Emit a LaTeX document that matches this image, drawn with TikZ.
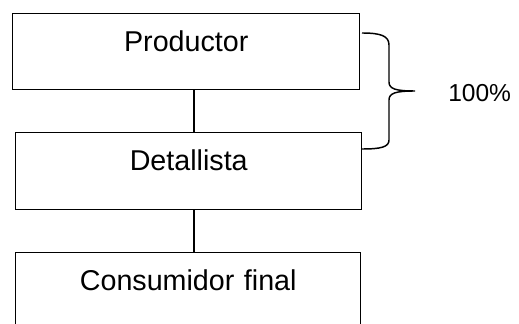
\documentclass[tikz,border=0pt]{standalone}
\usepackage{fontspec}
\setmainfont{Liberation Sans}
\begin{document}
\begin{tikzpicture}[x=0.75pt,y=-0.75pt,
  box/.style={draw,line width=1.1pt,inner sep=0pt,anchor=north west,align=center,
    text width=#1,text height=28.5pt,text depth=28.5pt,font=\fontsize{21.5}{24}\selectfont},
  link/.style={line width=1.1pt}]
\useasboundingbox (0,0) rectangle (519,324);
\node[box=260.25pt] (prod) at (12,13) {Productor};
\node[box=259.5pt,text depth=29.25pt] (det) at (15,132) {Detallista};
\node[box=258.75pt] (cons) at (15,252) {Consumidor final};
\coordinate (axis) at (194,0);
\draw[link] (prod.south -| axis) -- (det.north -| axis);
\draw[link] (det.south -| axis) -- (cons.north -| axis);
% brace and share
\draw[link] (362,33) .. controls (381,33) and (389,36) .. (389,45) -- (389,82)
  .. controls (389,89) and (396,91) .. (415,91)
  .. controls (396,91) and (389,93) .. (389,100) -- (389,140)
  .. controls (389,147) and (381,149) .. (362,149);
\node[anchor=base west,inner sep=0pt,font=\fontsize{18.4}{22}\selectfont] (share) at (448,101.7) {100\%};
\end{tikzpicture}
\end{document}
